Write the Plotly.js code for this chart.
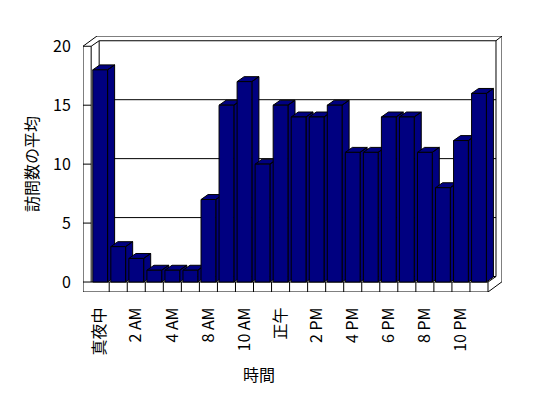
<!DOCTYPE html>
<html>
<head>
<meta charset="utf-8">
<script src="https://cdn.plot.ly/plotly-3.0.1.min.js"></script>
<style>html,body{margin:0;padding:0;background:#fff;}#chart{width:548px;height:398px;}</style>
</head>
<body>
<div id="chart"></div>
<script>
// ---- data ----
const hours = ['真夜中','1 AM','2 AM','3 AM','4 AM','7 AM','8 AM','9 AM','10 AM','11 AM','正午',
               '1 PM','2 PM','3 PM','4 PM','5 PM','6 PM','7 PM','8 PM','9 PM','10 PM','11 PM'];
const visits = [18,3,2,1,1,1,7,15,17,10,15,14,14,15,11,11,14,14,11,8,12,16];
const xTickLabels = ['真夜中','2 AM','4 AM','8 AM','10 AM','正午','2 PM','4 PM','6 PM','8 PM','10 PM'];
const yTicks = [0,5,10,15,20];
const yTitle = '訪問数の平均';
const xTitle = '時間';

// ---- style / geometry constants ----
const FONT = '"Noto Sans CJK JP", "Noto Sans", sans-serif';
const NAVY = '#000080';
const TXT = {family: FONT, size: 16, color: '#000000'};
const W = 0.82;            // front face width (category units)
const DX = 0.39, DY = 0.42; // bar depth offset
const WX1 = 0.443, WY1 = 0.466; // inner wall offset
const WX2 = 0.776, WY2 = 0.87;  // outer wall offset
const XL = -0.953, XI = -0.5, XR = hours.length - 0.5, YB = -0.847, YT = 20;
const xRange = [XL, XR + WX2];
const yRange = [YB, YT + WY2];

// ---- bar side / top faces (drawn under front faces) ----
const traces = [];
visits.forEach((v, i) => {
  const a = i + W / 2, b = i - W / 2;
  traces.push({
    type: 'scatter', mode: 'lines', xaxis: 'x', yaxis: 'y',
    x: [a, a, a + DX, a + DX, a, null, b, a, a + DX, b + DX, b],
    y: [0, v, v + DY, DY, 0, null, v, v, v + DY, v + DY, v],
    fill: 'toself', fillcolor: NAVY,
    line: {color: '#000', width: 1}, hoverinfo: 'skip', showlegend: false
  });
});
// ---- front faces ----
traces.push({
  type: 'bar', x: hours, y: visits, xaxis: 'x2', yaxis: 'y2', width: W,
  marker: {color: NAVY, line: {color: '#000', width: 1}}, showlegend: false
});

// ---- wall / floor frame lines ----
const segs = [];
const L = (x0, y0, x1, y1) => segs.push({type: 'line', xref: 'x', yref: 'y', x0, y0, x1, y1,
  line: {color: '#000', width: 1}, layer: 'below'});
L(XL, YB, XL, YT); L(XI, 0, XI, YT); L(XL, YT, XI, YT);
[5, 10, 15].forEach(t => L(XL, t, XI, t));
L(XL, 0, XR, 0); L(XL, YB, XR, YB); L(XR, YB, XR, 0);
for (let k = 0; k < hours.length - 1; k++) L(k + 0.5, YB, k + 0.5, 0);
L(XL, YT, XL + WX2, YT + WY2); L(XI, YT, XI + WX1, YT + WY1);
L(XL + WX2, YT + WY2, XR + WX2, YT + WY2); L(XI + WX1, YT + WY1, XR + WX1, YT + WY1);
L(XR + WX2, YB + WY2, XR + WX2, YT + WY2); L(XR + WX1, WY1, XR + WX1, YT + WY1);
L(XR + WX1, YT + WY1, XR + WX2, YT + WY2);
L(XR, YB, XR + WX2, YB + WY2); L(XR, 0, XR + WX1, WY1);
L(XI + WX1, WY1, XI + WX1, YT + WY1);
[5, 10, 15].forEach(t => L(XI + WX1, t + WY1, XR + WX1, t + WY1));
L(XI + WX1, WY1, XR + WX1, WY1);

const layout = {
  width: 548, height: 398,
  margin: {l: 83, r: 46, t: 36, b: 106},
  paper_bgcolor: '#fff', plot_bgcolor: '#fff',
  font: TXT,
  showlegend: false,
  xaxis: {
    range: xRange, showgrid: false, zeroline: false, showline: false,
    tickmode: 'array', tickvals: xTickLabels.map(l => hours.indexOf(l)), ticktext: xTickLabels,
    tickangle: -90, ticks: 'outside', ticklen: 8, tickcolor: 'rgba(0,0,0,0)',
    tickfont: TXT, fixedrange: true
  },
  yaxis: {
    range: yRange, showgrid: false, zeroline: false, showline: false,
    tickmode: 'array', tickvals: yTicks,
    ticks: 'outside', ticklen: 8, tickcolor: 'rgba(0,0,0,0)',
    tickfont: TXT, fixedrange: true,
    title: {text: yTitle, font: TXT, standoff: 10}
  },
  xaxis2: {overlaying: 'x', anchor: 'y2', type: 'category', categoryarray: hours,
    categoryorder: 'array', range: xRange, visible: false, fixedrange: true},
  yaxis2: {overlaying: 'y', anchor: 'x2', range: yRange, visible: false, fixedrange: true},
  shapes: segs,
  annotations: [{
    text: xTitle, xref: 'paper', yref: 'paper',
    x: (259 - 83) / 419, y: -(374 - 292) / 256, xanchor: 'center', yanchor: 'middle',
    showarrow: false, font: TXT
  }]
};

Plotly.newPlot('chart', traces, layout, {staticPlot: true, displayModeBar: false});
</script>
</body>
</html>
